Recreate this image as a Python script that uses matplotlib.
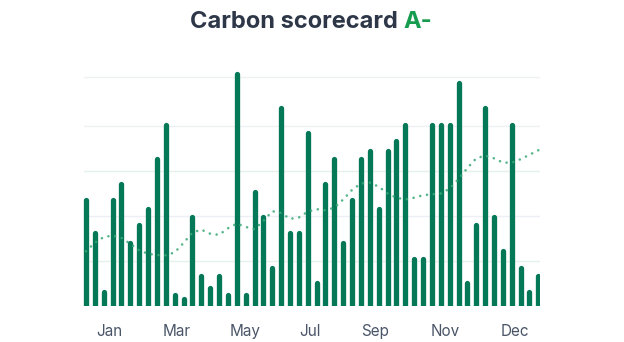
import matplotlib
matplotlib.use("Agg")
import matplotlib.pyplot as plt
import numpy as np

# ---- data ----
weekly_values = [48.2, 33.3, 7.3, 48.2, 55.3, 29.2, 36.9, 44.0, 66.5, 81.3,
                 6.1, 4.3, 40.4, 14.4, 9.1, 14.4, 6.1, 104.0, 6.1, 51.7,
                 40.4, 18.0, 89.0, 33.3, 33.3, 77.8, 11.4, 55.3, 66.5, 29.2,
                 48.2, 66.5, 70.1, 44.0, 70.1, 74.2, 81.3, 22.1, 22.1, 81.3,
                 81.3, 81.3, 100.3, 11.4, 36.9, 89.0, 40.4, 25.6, 81.3, 18.0,
                 7.3, 14.4]
trend_values = [24.2, 28.0, 30.5, 31.2, 30.1, 27.5, 24.6, 23.1, 22.5, 22.4,
                23.7, 27.9, 32.5, 33.8, 32.0, 31.5, 34.4, 36.5, 35.0, 34.0,
                37.7, 42.0, 41.2, 38.6, 39.2, 41.8, 42.9, 42.4, 43.6, 47.2,
                51.5, 54.3, 54.7, 52.9, 49.9, 48.0, 47.2, 48.0, 49.1, 49.5,
                49.9, 52.0, 56.3, 61.2, 65.5, 66.7, 65.5, 63.6, 63.6, 65.1,
                67.1, 69.1]
month_labels = ["Jan", "Mar", "May", "Jul", "Sep", "Nov", "Dec"]
title_text = "Carbon scorecard "
grade_text = "A-"

# ---- layout ----
month_tick_pos = [2.63, 10.2, 17.9, 25.3, 32.6, 40.5, 48.4]
W, H = 624, 342
fig = plt.figure(figsize=(W / 100, H / 100), dpi=100)
left_px, right_px = 82, 540
base_px, top_px = 305.7, 58.2
ax = fig.add_axes([left_px / W, (H - base_px) / H,
                   (right_px - left_px) / W, (base_px - top_px) / H])

weeks = np.arange(len(weekly_values))
px_per_week = 8.87
ax.set_xlim(-(86 - left_px) / px_per_week, (right_px - 86) / px_per_week)
ax.set_ylim(0, 110)

# grid lines
grid_levels = [20, 40, 60, 80, 101.5]
grid_colors = ["#e4f3ea", "#eceff5", "#e4f3ea", "#eef0f4", "#eef0f4"]
for lv, c in zip(grid_levels, grid_colors):
    ax.axhline(lv, color=c, lw=1.0, zorder=0, xmin=2 / (right_px - left_px))

# bars as rounded-top thick lines (bottom clipped square at the baseline)
bar_w_px = 5.3
bar_color = "#047857"
fig.canvas.draw()
px_per_unit = ax.transData.transform((0, 1))[1] - ax.transData.transform((0, 0))[1]
cap_r = (bar_w_px / 2) / px_per_unit
tops = np.array(weekly_values) - cap_r
vl = ax.vlines(weeks, 0, tops, colors=bar_color, linewidth=bar_w_px * 72 / 100, zorder=2)
vl.set_capstyle("round")

# dotted trend line
ax.plot(weeks, trend_values, color="#3aa877", lw=1.9,
        linestyle=(0, (0.01, 2.6)), dash_capstyle="round", zorder=3, alpha=0.85)

for s in ax.spines.values():
    s.set_visible(False)
ax.set_yticks([])
ax.set_xticks(month_tick_pos)
ax.set_xticklabels(month_labels, fontsize=11, color="#4a5568", fontfamily="Inter")
ax.tick_params(axis="x", length=0, pad=13)

# title with colored grade
t1 = fig.text(190 / W, 1 - 28.5 / H, title_text, fontsize=17, fontweight="bold",
              color="#2d3748", fontfamily="Inter", ha="left", va="baseline")
fig.canvas.draw()
bb = t1.get_window_extent()
fig.text(bb.x1 / W, 1 - 28.5 / H, grade_text, fontsize=17, fontweight="bold",
         color="#179c4f", fontfamily="Inter", ha="left", va="baseline")

fig.savefig("out.png", dpi=100)
